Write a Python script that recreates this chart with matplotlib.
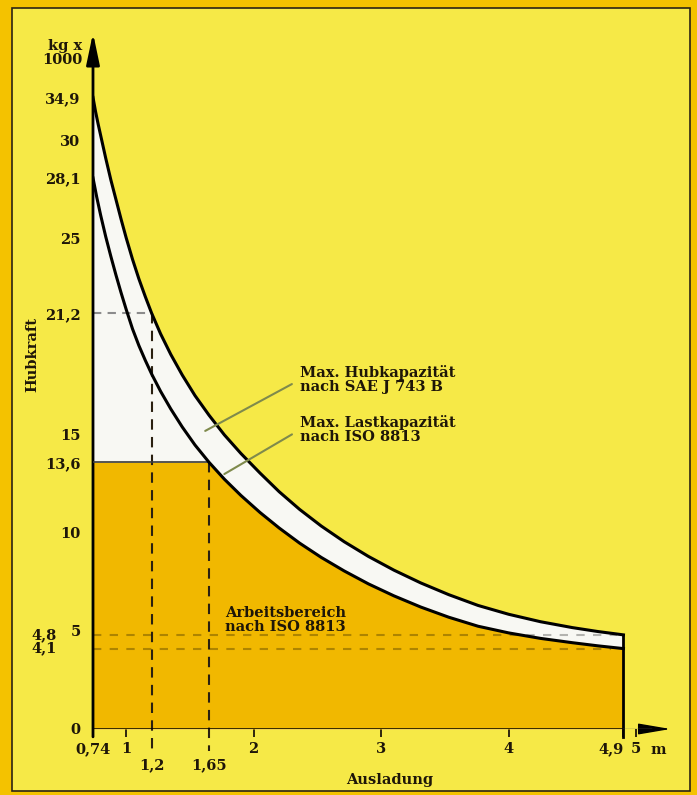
import numpy as np
import matplotlib
matplotlib.use("Agg")
import matplotlib.pyplot as plt
from matplotlib.patches import Rectangle

# Max. Hubkapazitaet nach SAE J 743 B (obere Kurve), Ausladung in m, Hubkraft in kg x 1000
hub_x = [0.74, 0.76, 0.78, 0.80, 0.84, 0.88, 0.92, 0.96, 1.00, 1.05, 1.10, 1.15, 1.20,
         1.27, 1.35, 1.44, 1.54, 1.65, 1.77, 1.90, 2.05, 2.20, 2.36, 2.53, 2.71, 2.90,
         3.10, 3.31, 3.53, 3.76, 4.00, 4.25, 4.50, 4.70, 4.90]
hub_y = [34.9, 33.3, 31.9, 30.6, 29.1, 28.0, 27.0, 26.0, 25.05, 23.95, 22.95, 22.05, 21.2,
         20.15, 19.1, 18.05, 17.0, 16.0, 15.0, 14.05, 13.05, 12.1, 11.2, 10.35, 9.55, 8.8,
         8.1, 7.45, 6.85, 6.3, 5.85, 5.47, 5.17, 4.97, 4.8]

# Max. Lastkapazitaet nach ISO 8813 (untere Kurve)
last_x = [0.74, 0.77, 0.80, 0.84, 0.88, 0.92, 0.96, 1.00, 1.05, 1.10, 1.15, 1.20, 1.27,
          1.35, 1.44, 1.54, 1.65, 1.77, 1.90, 2.05, 2.20, 2.36, 2.53, 2.71, 2.90, 3.10,
          3.31, 3.53, 3.76, 4.00, 4.25, 4.50, 4.70, 4.90]
last_y = [28.1, 27.1, 26.2, 25.1, 24.1, 23.15, 22.25, 21.4, 20.4, 19.55, 18.8, 18.1, 17.22,
          16.32, 15.4, 14.48, 13.6, 12.74, 11.91, 11.04, 10.25, 9.48, 8.75, 8.06, 7.4, 6.79,
          6.22, 5.7, 5.24, 4.9, 4.62, 4.4, 4.24, 4.1]

grenze = 13.6          # Arbeitsbereich-Obergrenze
x_start = 0.74
x_end = 4.9
marke_x = [1.2, 1.65]
marke_y = [21.2, 13.6]
end_y = [4.8, 4.1]
end_labels = ["4,8", "4,1"]

x_ticks = [0.74, 1, 2, 3, 4, 4.9, 5]
x_labels = ["0,74", "1", "2", "3", "4", "4,9", "5"]
x_ticks2 = [1.2, 1.65]
x_labels2 = ["1,2", "1,65"]
y_ticks = [0, 5, 10, 13.6, 15, 21.2, 25, 28.1, 30, 34.9]
y_labels = ["0", "5", "10", "13,6", "15", "21,2", "25", "28,1", "30", "34,9"]

ink = "#1e1608"
weiss = "#f8f8f3"
orange = "#f1b800"
gelb = "#f6e947"
rand = "#f4c200"

plt.rcParams["font.family"] = "DejaVu Serif"
plt.rcParams["font.weight"] = "bold"
plt.rcParams["font.size"] = 10.5

fig = plt.figure(figsize=(6.97, 7.95), dpi=100, facecolor=rand)
fig.add_artist(Rectangle((12 / 697, 4 / 795), 678 / 697, 783 / 795, transform=fig.transFigure,
                         facecolor=gelb, edgecolor="#2b2414", lw=1.2, zorder=-1))

ax = fig.add_axes([93 / 697, 66 / 795, 577.6 / 697, 696 / 795])
ax.set_facecolor("none")
for s in ax.spines.values():
    s.set_visible(False)

# top of the scale is squeezed above 30, like in the drawing
def fwd(y):
    y = np.asarray(y, dtype=float)
    return np.where(y > 30, 30 + (y - 30) * 0.45, y)

def inv(s):
    s = np.asarray(s, dtype=float)
    return np.where(s > 30, 30 + (s - 30) / 0.45, s)

ax.set_yscale("function", functions=(fwd, inv))
ax.set_xlim(x_start, 5.27)
ax.set_ylim(0, 42.2)

# areas
ax.fill_between(hub_x, 0, hub_y, color=weiss, lw=0, zorder=1)
ax.fill_between(last_x, 0, np.minimum(last_y, grenze), color=orange, lw=0, zorder=2)

# helper lines
ax.plot([x_start, marke_x[0]], [marke_y[0], marke_y[0]], color="#8c8c8c", lw=1.5,
        dashes=(4, 3), zorder=3)
for mx, my in zip(marke_x, marke_y):
    ax.plot([mx, mx], [my, -1.1], color="#2a2010", lw=1.5, dashes=(5, 3.5),
            zorder=3, clip_on=False)
ax.plot([x_start, 4.85], [end_y[0], end_y[0]], color="k", alpha=0.28, lw=1.5,
        dashes=(4, 4), zorder=3)
ax.plot([x_start, 4.8], [end_y[1], end_y[1]], color="k", alpha=0.28, lw=1.5,
        dashes=(4, 4), zorder=3)
ax.plot([x_start, marke_x[1]], [grenze, grenze], color="#3a3a3a", lw=1.2, zorder=4)

# curves
ax.plot(hub_x, hub_y, color="k", lw=2.2, zorder=5, solid_joinstyle="round")
ax.plot(last_x, last_y, color="k", lw=2.2, zorder=5, solid_joinstyle="round")
ax.plot([x_end, x_end], [end_y[0], -0.4], color="k", lw=2, zorder=5, clip_on=False)

# axes with arrows
ax.plot([x_start, x_end], [0, 0], color="k", lw=1.8, zorder=6)
ax.plot([x_end, 5.12], [0, 0], color="#6a6a5a", lw=1, zorder=6)
ax.annotate("", xy=(5.27, 0), xytext=(5.08, 0), annotation_clip=False,
            arrowprops=dict(arrowstyle="-|>,head_length=1.0,head_width=0.17",
                            mutation_scale=20, color="k", lw=1, shrinkA=0, shrinkB=0))
ax.annotate("", xy=(x_start, 42.2), xytext=(x_start, -0.4), annotation_clip=False,
            arrowprops=dict(arrowstyle="-|>,head_length=0.95,head_width=0.2",
                            mutation_scale=20, color="k", lw=2, shrinkA=0, shrinkB=0))

# ticks
ax.set_xticks(x_ticks, x_labels)
ax.set_xticks(x_ticks2, x_labels2, minor=True)
ax.tick_params(axis="x", which="major", length=6, width=1.3, pad=3.5, colors=ink)
ax.tick_params(axis="x", which="minor", length=0, pad=21, colors=ink)
ax.get_xticklabels()[5].set_horizontalalignment("right")
ax.set_yticks(y_ticks, y_labels)
ax.tick_params(axis="y", length=0, pad=9, colors=ink)

for yv, lab in zip(end_y, end_labels):
    ax.annotate(lab, xy=(x_start, yv), xytext=(-26, 0), textcoords="offset points",
                ha="right", va="center", color=ink)

ax.text(5.17, -0.030, "m", transform=ax.get_xaxis_transform(), ha="center", va="center",
        color=ink)
ax.text(3.07, -0.073, "Ausladung", transform=ax.get_xaxis_transform(), ha="center",
        va="center", color=ink)
fig.text(32 / 697, 1 - 355 / 795, "Hubkraft", rotation=90, ha="center", va="center",
         color=ink)
fig.text(82 / 697, 1 - 53 / 795, "kg x\n1000", ha="right", va="center", linespacing=1.0,
         color=ink)

# labels with leader lines
ax.annotate("Max. Hubkapazität\nnach SAE J 743 B", xy=(1.62, 15.2), xytext=(2.36, 17.8),
            ha="left", va="center", linespacing=1.0, color=ink, zorder=7,
            arrowprops=dict(arrowstyle="-", color="#7f8a4c", lw=1.5, relpos=(0, 0.5),
                            shrinkA=4, shrinkB=0))
ax.annotate("Max. Lastkapazität\nnach ISO 8813", xy=(1.77, 13.0), xytext=(2.36, 15.25),
            ha="left", va="center", linespacing=1.0, color=ink, zorder=7,
            arrowprops=dict(arrowstyle="-", color="#7f8a4c", lw=1.5, relpos=(0, 0.5),
                            shrinkA=4, shrinkB=0))
ax.text(1.775, 5.56, "Arbeitsbereich\nnach ISO 8813", ha="left", va="center",
        linespacing=1.0, color=ink, zorder=7)

plt.savefig("out.png", dpi=100)
